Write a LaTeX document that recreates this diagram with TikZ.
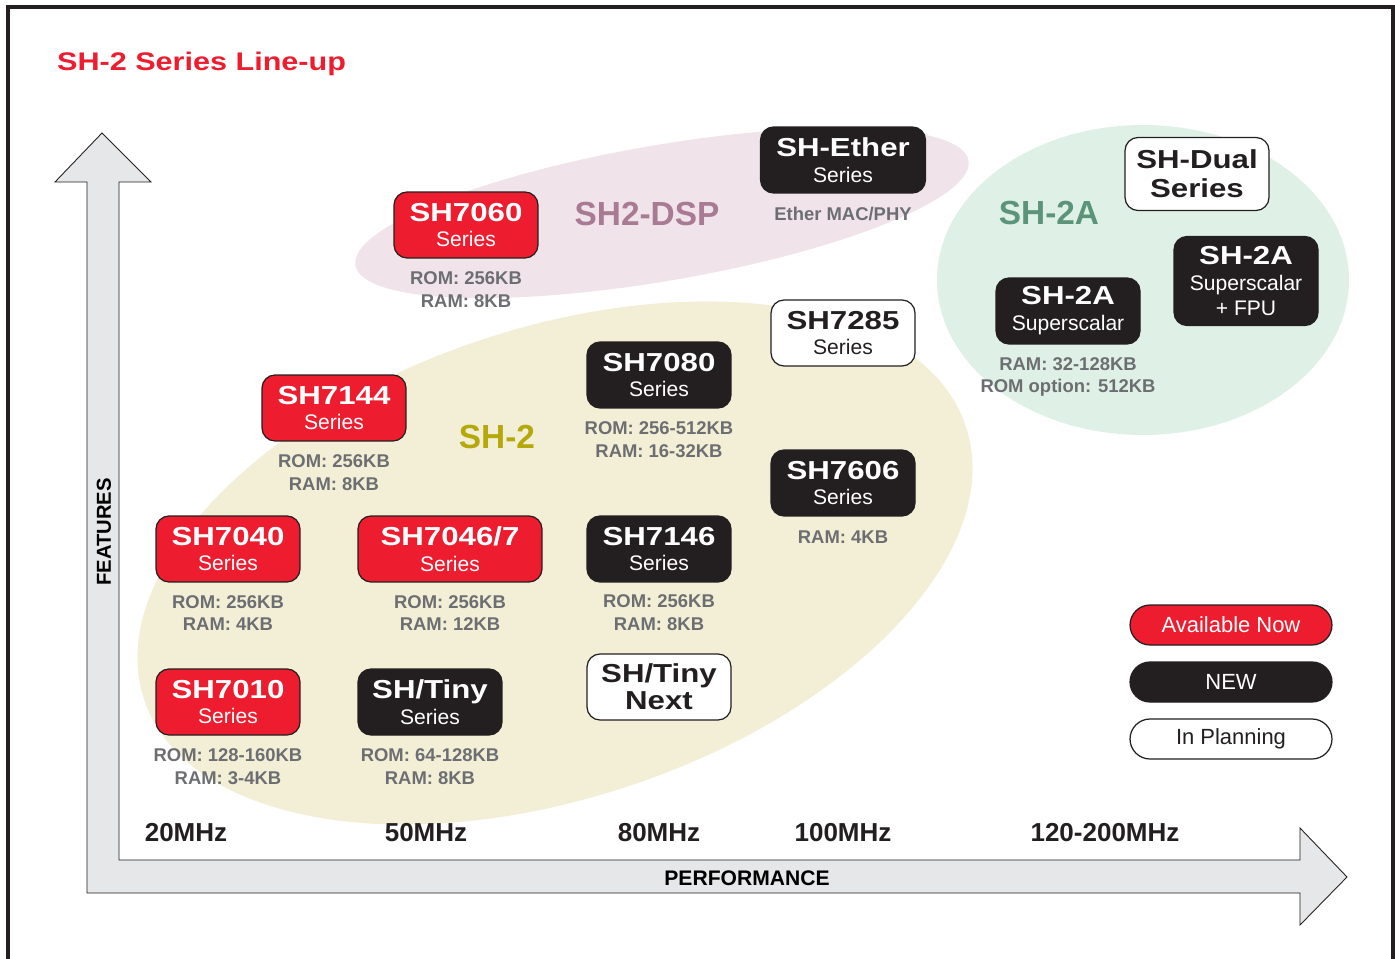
\documentclass[tikz,border=0pt]{standalone}
\usepackage{fontspec}
\setmainfont{Liberation Sans}
\newfontfamily\widefont[FakeStretch=1.2]{Liberation Sans}
\usepackage{tikz}
\usepackage{xcolor}
\usetikzlibrary{calc}
\usetikzlibrary{shapes}
\usetikzlibrary{positioning}

\definecolor{renred}{HTML}{ED1C2E}
\definecolor{renblack}{HTML}{231F20}
\definecolor{infogrey}{HTML}{6D6E71}
\definecolor{dsppink}{HTML}{F0E4EA}
\definecolor{shyellow}{HTML}{F3EFD7}
\definecolor{shgreen}{HTML}{DFF1E7}
\definecolor{dsplabel}{HTML}{A87A93}
\definecolor{shlabel}{HTML}{B5A80A}
\definecolor{twoalabel}{HTML}{5C9479}
\definecolor{axisgrey}{HTML}{E6E7E8}

\newcommand{\chiptitle}{\widefont\bfseries\fontsize{14.8}{15}\selectfont}
\newcommand{\chipsub}{\fontsize{12}{14}\selectfont}

\tikzset{
  chip/.style={draw=renblack, line width=0.7pt, rounded corners=0.26cm, minimum width=2.88cm,
    minimum height=1.32cm, align=center, inner sep=1pt, font=\fontsize{12}{14.7}\selectfont},
  avail/.style={chip, fill=renred, text=white},
  newchip/.style={chip, fill=renblack, text=white},
  plan/.style={chip, fill=white, text=renblack},
  info/.style={text=infogrey, font=\bfseries\fontsize{10.5}{13}\selectfont, align=center},
  freq/.style={text=renblack, font=\bfseries\fontsize{14.8}{16}\selectfont},
  family/.style={font=\bfseries\fontsize{19}{22}\selectfont},
  pill/.style={draw=renblack, line width=0.7pt, rounded corners=0.4cm, minimum width=4.04cm,
    minimum height=0.8cm, font=\fontsize{12.5}{14}\selectfont}
}

\begin{document}
\begin{tikzpicture}[x=0.02cm, y=-0.02cm]
\useasboundingbox (0,0) rectangle (1395,959);

% Frame
\draw[line width=1.8pt, renblack] (8,959) -- (8,7) -- (1393,7) -- (1393,959);

% Title
\node[anchor=west, text=renred, font=\widefont\bfseries\fontsize{14.5}{16}\selectfont] (title) at (51,64) {SH-2 Series Line-up};

% Family areas
\fill[shgreen] (1143,280) ellipse [x radius=206, y radius=155];
\fill[dsppink, rotate around={9.7:(662,213)}] (662,213) ellipse [x radius=311, y radius=68];
\fill[shyellow, rotate around={18.4:(555,563)}] (555,563) ellipse [x radius=433, y radius=235];

% Axes
\draw[fill=axisgrey, draw=renblack, line width=0.5pt] (87,893) -- (87,182) -- (55,182) -- (102,133)
  -- (151,182) -- (119,182) -- (119,860) -- (1300,860) -- (1300,828) -- (1347,877) -- (1300,925)
  -- (1300,893) -- cycle;
\node[rotate=90, font=\bfseries\fontsize{11.5}{14}\selectfont] (features) at (104,532) {FEATURES};
\node[font=\bfseries\fontsize{12}{14}\selectfont] (performance) at (747,878) {PERFORMANCE};

% Frequencies
\node[freq] (f20) at (186,833) {20MHz};
\node[freq] (f50) at (426,833) {50MHz};
\node[freq] (f80) at (659,833) {80MHz};
\node[freq] (f100) at (843,833) {100MHz};
\node[freq] (f120) at (1105,833) {120-200MHz};

% Family names
\node[family, text=dsplabel] (dsp) at (647,214) {SH2-DSP};
\node[family, text=shlabel] (sh2) at (497,437) {SH-2};
\node[family, text=twoalabel] (sh2a) at (1049,213) {SH-2A};

% SH2-DSP
\node[avail] (sh7060) at (466,225) {{\chiptitle SH7060}\\{\chipsub Series}};
\node[info] (sh7060info) at (466,290) {ROM: 256KB\\RAM: 8KB};
\node[newchip, minimum width=3.3cm] (ether) at (843,160) {{\chiptitle SH-Ether}\\{\chipsub Series}};
\node[info] (etherinfo) at (843,214) {Ether MAC/PHY};

% SH-2A
\node[plan, minimum height=1.46cm] (dual) at (1197,174) {{\chiptitle SH-Dual}\\[1.7pt]{\chiptitle Series}};
\node[newchip] (superscalar) at (1068,311) {{\chiptitle SH-2A}\\{\chipsub Superscalar}};
\node[info] (superinfo) at (1068,377) {RAM: 32-128KB\\ROM option: 512KB};
\node[newchip, minimum height=1.78cm] (fpu) at (1246,281) {{\chiptitle SH-2A}\\{\chipsub Superscalar}\\[-0.5pt]{\chipsub + FPU}};

% SH-2
\node[plan] (sh7285) at (843,333) {{\chiptitle SH7285}\\{\chipsub Series}};
\node[newchip] (sh7080) at (659,375) {{\chiptitle SH7080}\\{\chipsub Series}};
\node[info] (sh7080info) at (659,440) {ROM: 256-512KB\\RAM: 16-32KB};
\node[avail] (sh7144) at (334,408) {{\chiptitle SH7144}\\{\chipsub Series}};
\node[info] (sh7144info) at (334,473) {ROM: 256KB\\RAM: 8KB};
\node[newchip] (sh7606) at (843,483) {{\chiptitle SH7606}\\{\chipsub Series}};
\node[info] (sh7606info) at (843,537) {RAM: 4KB};
\node[avail] (sh7040) at (228,549) {{\chiptitle SH7040}\\{\chipsub Series}};
\node[info] (sh7040info) at (228,613) {ROM: 256KB\\RAM: 4KB};
\node[avail, minimum width=3.68cm] (sh7046) at (450,549) {{\chiptitle SH7046/7}\\{\chipsub Series}};
\node[info] (sh7046info) at (450,613) {ROM: 256KB\\RAM: 12KB};
\node[newchip] (sh7146) at (659,549) {{\chiptitle SH7146}\\{\chipsub Series}};
\node[info] (sh7146info) at (659,613) {ROM: 256KB\\RAM: 8KB};
\node[avail] (sh7010) at (228,702) {{\chiptitle SH7010}\\{\chipsub Series}};
\node[info] (sh7010info) at (228,767) {ROM: 128-160KB\\RAM: 3-4KB};
\node[newchip] (tiny) at (430,702) {{\chiptitle SH/Tiny}\\{\chipsub Series}};
\node[info] (tinyinfo) at (430,767) {ROM: 64-128KB\\RAM: 8KB};
\node[plan] (tinynext) at (659,687) {{\chiptitle SH/Tiny}\\[0.6pt]{\chiptitle Next}};

% Legend
\node[pill, fill=renred, text=white] (availnow) at (1231,625) {Available Now};
\node[pill, fill=renblack, text=white] (newflag) at (1231,682) {NEW};
\node[pill, fill=white, text=renblack] (planflag) at (1231,739) {In Planning};
\end{tikzpicture}
\end{document}
